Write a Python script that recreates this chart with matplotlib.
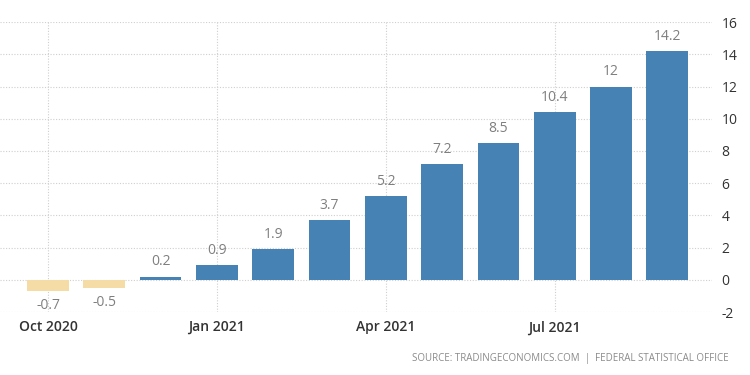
import matplotlib
matplotlib.use("Agg")
import matplotlib.pyplot as plt

months = ["Oct 2020", "Nov 2020", "Dec 2020", "Jan 2021", "Feb 2021", "Mar 2021",
          "Apr 2021", "May 2021", "Jun 2021", "Jul 2021", "Aug 2021", "Sep 2021"]
values = [-0.7, -0.5, 0.2, 0.9, 1.9, 3.7, 5.2, 7.2, 8.5, 10.4, 12, 14.2]
value_labels = ["-0.7", "-0.5", "0.2", "0.9", "1.9", "3.7", "5.2", "7.2", "8.5", "10.4", "12", "14.2"]
tick_idx = [0, 3, 6, 9]
tick_labels = ["Oct 2020", "Jan 2021", "Apr 2021", "Jul 2021"]
yticks = [-2, 0, 2, 4, 6, 8, 10, 12, 14, 16]

plt.rcParams['font.family'] = ['Open Sans', 'DejaVu Sans']

fig = plt.figure(figsize=(7.5, 3.75), dpi=100)
ax = fig.add_axes([0.0, 0.168, 0.949, 0.773])

x = list(range(len(values)))
colors = ["#F5DBA6" if v < 0 else "#4682B4" for v in values]
ax.bar(x, values, width=0.74, color=colors, zorder=3)

for xi, v, lab in zip(x, values, value_labels):
    if v >= 0:
        ax.text(xi, v + 0.45, lab, ha="center", va="bottom", fontsize=10, color="#7f7f7f", zorder=4)
    else:
        ax.text(xi, v - 0.45, lab, ha="center", va="top", fontsize=10, color="#7f7f7f", zorder=4)

ax.set_xlim(-0.853, 11.79)
ax.set_ylim(-2, 16)
ax.set_yticks(yticks)
ax.set_yticklabels([str(t) for t in yticks])
ax.yaxis.tick_right()
ax.set_xticks(tick_idx)
ax.set_xticklabels(tick_labels)

ax.grid(True, axis="both", linestyle=(0, (1, 1.5)), color="#cfcfcf", linewidth=0.8, zorder=0)
for s in ax.spines.values():
    s.set_visible(False)
ax.tick_params(axis="both", length=0, labelsize=10, colors="#333333")
ax.tick_params(axis="y", pad=7)
ax.tick_params(axis="x", pad=6)
for lbl in ax.get_xticklabels():
    lbl.set_fontweight("semibold")

fig.text(0.971, 0.045, "SOURCE: TRADINGECONOMICS.COM  |  FEDERAL STATISTICAL OFFICE",
         ha="right", va="center", fontsize=7, color="#8a8a8a")

fig.savefig("out.png", dpi=100, facecolor="white")
